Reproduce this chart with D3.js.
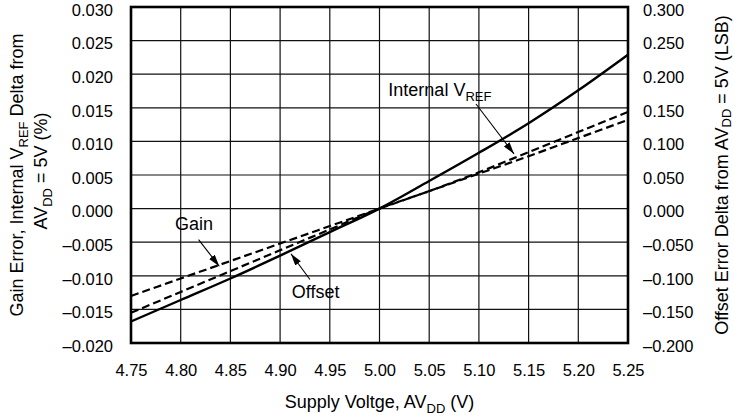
<!DOCTYPE html>
<html>
<head>
<meta charset="utf-8">
<script src="https://cdn.jsdelivr.net/npm/d3@7"></script>
<style>
body { margin: 0; background: #fff; }
text { font-family: Arial, "Liberation Sans", Helvetica, sans-serif; fill: #000; }
</style>
</head>
<body>
<svg id="chart" width="734" height="419"></svg>
<script>
// supply voltage AVDD (V)
var supply = [4.75, 4.80, 4.85, 4.90, 4.95, 5.00, 5.05, 5.10, 5.15, 5.20, 5.25];
// gain error delta (%), left axis
var gainErr = [-0.0130, -0.0104, -0.0078, -0.0052, -0.0026, 0, 0.0026, 0.0052, 0.0078, 0.0105, 0.0132];
// internal VREF delta (%), left axis
var vrefDelta = [-0.0155, -0.0124, -0.0093, -0.0062, -0.0031, 0, 0.0026, 0.0054, 0.0084, 0.0114, 0.0144];
// offset error delta (LSB), right axis
var offsetLsb = [-0.168, -0.136, -0.104, -0.070, -0.035, 0, 0.041, 0.083, 0.127, 0.176, 0.229];

var leftTicks = [-0.020, -0.015, -0.010, -0.005, 0.000, 0.005, 0.010, 0.015, 0.020, 0.025, 0.030];
var rightTicks = [-0.200, -0.150, -0.100, -0.050, 0.000, 0.050, 0.100, 0.150, 0.200, 0.250, 0.300];

var margin = {left: 131, top: 7, right: 106, bottom: 76};
var width = 734 - margin.left - margin.right;
var height = 419 - margin.top - margin.bottom;

var svg = d3.select('#chart');
var g = svg.append('g').attr('transform', 'translate(' + margin.left + ',' + margin.top + ')');

var x = d3.scaleLinear().domain([4.75, 5.25]).range([0, width]);
var yL = d3.scaleLinear().domain([-0.02, 0.03]).range([height, 0]);
var yR = d3.scaleLinear().domain([-0.2, 0.3]).range([height, 0]);

function dash(fmt) {
    return function (d) { return fmt(d).replace('−', '–').replace('-', '–'); };
}

// grid
g.append('g').attr('class', 'grid')
    .selectAll('line.v').data(supply).enter().append('line')
    .attr('x1', function (d) { return x(d); }).attr('x2', function (d) { return x(d); })
    .attr('y1', 0).attr('y2', height);
g.append('g').attr('class', 'grid')
    .selectAll('line.h').data(leftTicks).enter().append('line')
    .attr('x1', 0).attr('x2', width)
    .attr('y1', function (d) { return yL(d); }).attr('y2', function (d) { return yL(d); });
g.selectAll('.grid line').attr('stroke', '#111').attr('stroke-width', 1.2);

// axes labels
var axL = g.append('g')
    .call(d3.axisLeft(yL).tickValues(leftTicks).tickSize(0).tickPadding(18).tickFormat(dash(d3.format('.3f'))));
var axR = g.append('g').attr('transform', 'translate(' + width + ',0)')
    .call(d3.axisRight(yR).tickValues(rightTicks).tickSize(0).tickPadding(15).tickFormat(dash(d3.format('.3f'))));
var axB = g.append('g').attr('transform', 'translate(0,' + height + ')')
    .call(d3.axisBottom(x).tickValues(supply).tickSize(0).tickPadding(21).tickFormat(d3.format('.2f')));
[axL, axR, axB].forEach(function (a) {
    a.select('.domain').remove();
    a.selectAll('text').style('font-size', '16.5px').attr('fill', '#000')
        .style('font-family', 'Arial, "Liberation Sans", sans-serif');
});
axL.selectAll('text').attr('y', 3);
axR.selectAll('text').attr('y', 3);

// lines
var lineL = d3.line().x(function (d, i) { return x(supply[i]); }).y(function (d) { return yL(d); }).curve(d3.curveMonotoneX);
var lineR = d3.line().x(function (d, i) { return x(supply[i]); }).y(function (d) { return yR(d); }).curve(d3.curveMonotoneX);

g.append('path').datum(gainErr).attr('d', lineL)
    .attr('fill', 'none').attr('stroke', '#000').attr('stroke-width', 2.2).attr('stroke-dasharray', '8,4');
g.append('path').datum(vrefDelta).attr('d', lineL)
    .attr('fill', 'none').attr('stroke', '#000').attr('stroke-width', 2.2).attr('stroke-dasharray', '8,4');
g.append('path').datum(offsetLsb).attr('d', lineR)
    .attr('fill', 'none').attr('stroke', '#000').attr('stroke-width', 2.4);

// frame
g.append('rect').attr('width', width).attr('height', height)
    .attr('fill', 'none').attr('stroke', '#000').attr('stroke-width', 2.6);

// arrow marker
svg.append('defs').append('marker')
    .attr('id', 'arrow').attr('markerUnits', 'userSpaceOnUse')
    .attr('markerWidth', 13).attr('markerHeight', 8)
    .attr('refX', 12).attr('refY', 3.5).attr('orient', 'auto')
    .append('path').attr('d', 'M0,0 L12,3.5 L0,7 Z').attr('fill', '#000');

function note(txt, sub, tx, ty, ax1, ay1, ax2, ay2) {
    var t = g.append('text').attr('x', x(tx)).attr('y', yL(ty)).style('font-size', '18px');
    t.append('tspan').text(txt);
    if (sub) t.append('tspan').attr('dy', 5).style('font-size', '13px').text(sub);
    g.append('line')
        .attr('x1', x(ax1)).attr('y1', yL(ay1)).attr('x2', x(ax2)).attr('y2', yL(ay2))
        .attr('stroke', '#000').attr('stroke-width', 1.1).attr('marker-end', 'url(#arrow)');
}
note('Gain', null, 4.7943, -0.00323, 4.818, -0.00461, 4.8388, -0.00858);
note('Offset', null, 4.9117, -0.01337, 4.930, -0.01055, 4.9109, -0.00672);
note('Internal V', 'REF', 5.0089, 0.0168, 5.0971, 0.01556, 5.1353, 0.00815);

// axis titles
var tl = svg.append('text').attr('transform', 'translate(23,' + (margin.top + height / 2) + ') rotate(-90)')
    .attr('text-anchor', 'middle').style('font-size', '18px');
tl.append('tspan').text('Gain Error, Internal V');
tl.append('tspan').attr('dy', 5).style('font-size', '13px').text('REF');
tl.append('tspan').attr('dy', -5).text(' Delta from');

var tl2 = svg.append('text').attr('transform', 'translate(47,' + (margin.top + height / 2 - 4) + ') rotate(-90)')
    .attr('text-anchor', 'middle').style('font-size', '18px');
tl2.append('tspan').text('AV');
tl2.append('tspan').attr('dy', 5).style('font-size', '13px').text('DD');
tl2.append('tspan').attr('dy', -5).text(' = 5V (%)');

var tr = svg.append('text').attr('transform', 'translate(728,' + (margin.top + height / 2) + ') rotate(-90)')
    .attr('text-anchor', 'middle').style('font-size', '18px');
tr.append('tspan').text('Offset Error Delta from AV');
tr.append('tspan').attr('dy', 3).style('font-size', '13px').text('DD');
tr.append('tspan').attr('dy', -3).text(' = 5V (LSB)');

var tb = svg.append('text').attr('x', margin.left + width / 2).attr('y', 408)
    .attr('text-anchor', 'middle').style('font-size', '18px');
tb.append('tspan').text('Supply Voltge, AV');
tb.append('tspan').attr('dy', 5).style('font-size', '13px').text('DD');
tb.append('tspan').attr('dy', -5).text(' (V)');
</script>
</body>
</html>
